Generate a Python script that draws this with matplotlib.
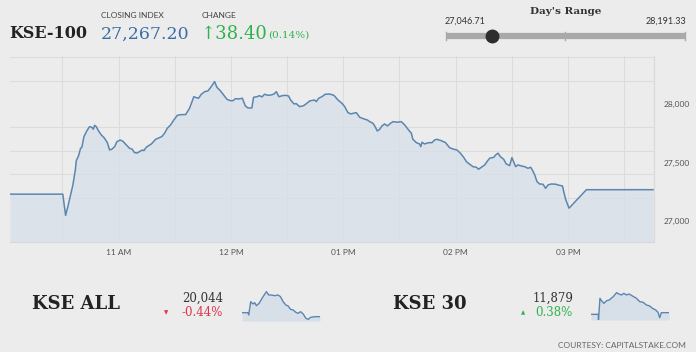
import matplotlib.pyplot as plt
from matplotlib.ticker import FixedLocator, FuncFormatter

# KSE-100 intraday, minutes after 10:00 and index level
kse100_min = [2, 30.2, 31.7, 32.9, 35.6, 36.9, 37.4, 38.6, 39.7, 40.4, 41.5, 43.1, 44.5, 45.7, 46.5,
              47.2, 48.1, 49.3, 50.8, 52.5, 54.0, 55.2, 56.4, 57.9, 59.1, 60.9, 62.3, 64.1, 65.9,
              67.3, 68.5, 70.0, 71.8, 72.7, 73.5, 74.8, 77.5, 79.8, 81.9, 83.1, 84.6, 86.0, 87.8,
              89.5, 91.4, 93.5, 95.8, 97.9, 100.2, 101.5, 102.7, 104.2, 106.0, 107.7, 109.5, 111.3,
              112.5, 114.3, 116.1, 117.9, 119.7, 121.1, 122.4, 124.3, 126.1, 126.8, 127.7, 129.1,
              131.2, 132.1, 133.9, 135.3, 136.6, 138.0, 139.8, 141.6, 143.0, 144.3, 145.6, 147.5,
              149.2, 150.8, 151.9, 153.7, 154.9, 156.7, 158.8, 160.6, 162.1, 164.7, 165.6, 166.9,
              168.6, 170.4, 172.7, 175.0, 177.2, 179.3, 180.8, 182.5, 184.0, 185.7, 187.0, 188.8,
              191.1, 192.9, 194.1, 195.9, 197.2, 198.2, 199.5, 200.7, 202.1, 203.6, 205.3, 206.6,
              208.9, 211.0, 212.8, 214.9, 216.4, 217.2, 219.1, 220.8, 221.4, 222.1, 223.5, 225.6,
              227.4, 228.8, 230.1, 232.4, 234.7, 236.8, 239.0, 240.7, 242.6, 244.3, 245.8, 247.5,
              249.3, 251.1, 252.3, 253.8, 255.6, 256.8, 258.2, 260.4, 261.4, 262.7, 263.9, 265.7,
              267.1, 268.9, 270.1, 271.0, 272.1, 273.3, 275.2, 276.9, 278.7, 280.1, 281.0, 282.3,
              283.5, 284.9, 286.7, 288.1, 289.4, 291.2, 293.5, 295.3, 297.1, 297.8, 298.8, 300.6,
              309.9, 345.5]
kse100_val = [27229, 27229, 27047, 27122, 27308, 27436, 27515, 27556, 27621, 27630, 27721, 27772,
              27806, 27801, 27784, 27818, 27806, 27769, 27735, 27707, 27669, 27607, 27613, 27635,
              27678, 27692, 27681, 27650, 27621, 27613, 27584, 27581, 27598, 27607, 27601, 27630,
              27658, 27698, 27712, 27721, 27750, 27792, 27821, 27863, 27903, 27909, 27909, 27963,
              28062, 28054, 28049, 28083, 28105, 28111, 28148, 28191, 28143, 28114, 28077, 28040,
              28028, 28028, 28045, 28043, 28049, 28020, 27983, 27966, 27966, 28057, 28062, 28071,
              28060, 28083, 28074, 28077, 28085, 28105, 28062, 28071, 28074, 28068, 28034, 28000,
              28003, 27977, 27985, 28006, 28026, 28034, 28020, 28049, 28062, 28083, 28085, 28074,
              28034, 28006, 27977, 27926, 27915, 27921, 27926, 27886, 27872, 27863, 27849, 27835,
              27801, 27769, 27784, 27812, 27829, 27812, 27835, 27849, 27844, 27849, 27821, 27778,
              27750, 27698, 27669, 27658, 27635, 27673, 27658, 27669, 27669, 27692, 27698, 27686,
              27669, 27626, 27613, 27607, 27579, 27544, 27507, 27485, 27464, 27459, 27442, 27459,
              27479, 27507, 27536, 27544, 27564, 27579, 27550, 27527, 27487, 27473, 27541, 27507,
              27464, 27479, 27470, 27464, 27450, 27459, 27436, 27393, 27336, 27316, 27314, 27279,
              27308, 27316, 27314, 27305, 27299, 27250, 27185, 27109, 27267, 27267.2]

kseall_min = [2, 28.6, 31.5, 40.4, 50.7, 58.1, 65.5, 77.3, 95, 109.7, 120.1, 131.9, 146.6, 161.4,
              171.7, 183.5, 195.4, 205.7, 216, 227.8, 239.6, 250, 260.3, 272.1, 283.9, 294.2,
              304.6, 323.8, 346]
kseall_val = [20133, 20133, 20081, 20377, 20325, 20355, 20288, 20340, 20488, 20599, 20525, 20525,
              20510, 20525, 20488, 20377, 20303, 20281, 20207, 20192, 20140, 20118, 20155, 20103,
              20007, 19985, 20029, 20044, 20044]

kse30_min = [2, 34.2, 35, 41.5, 51.8, 59.1, 70.8, 82.5, 100.1, 114.7, 125, 136.7, 146.9, 158.6,
             170.4, 185, 202.6, 217.2, 231.8, 246.5, 261.1, 272.8, 287.5, 297.7, 305, 312.4, 327, 346]
kse30_val = [11834, 11834, 11681, 12266, 12176, 12131, 12203, 12221, 12311, 12419, 12383, 12356,
             12401, 12356, 12383, 12329, 12266, 12176, 12158, 12086, 12059, 11996, 11951, 11888,
             11744, 11879, 11879, 11879]

hour_ticks = [60, 120, 180, 240, 300]
hour_labels = ['11 AM', '12 PM', '01 PM', '02 PM', '03 PM']
y_labels = [27000, 27500, 28000]

day_low = 27046.71
day_high = 28191.33
close_val = 27267.20

BG = '#ececec'
LINE = '#5a86b0'
FILL = '#d5dfe9'
GRID = '#dcdcdc'
W, H = 696, 352


def px(x, y):
    return x / W, 1 - y / H


def rect(x0, y0, x1, y1):
    return [x0 / W, 1 - y1 / H, (x1 - x0) / W, (y1 - y0) / H]


plt.rcParams['font.family'] = ['Lato', 'DejaVu Sans']
fig = plt.figure(figsize=(W / 100, H / 100), dpi=100, facecolor=BG)

# main chart
ax = fig.add_axes(rect(10, 56, 654, 242))
ax.set_facecolor(BG)
ax.plot(kse100_min, kse100_val, color=LINE, lw=1.1, zorder=3)
ax.fill_between(kse100_min, kse100_val, 26820, color=FILL, alpha=0.7, lw=0, zorder=2)
ax.set_xlim(2, 346)
ax.set_ylim(26820, 28410)
ax.xaxis.set_major_locator(FixedLocator(hour_ticks))
ax.xaxis.set_minor_locator(FixedLocator([30, 90, 150, 210, 270, 330]))
ax.set_xticklabels(hour_labels)
ax.yaxis.set_major_locator(FixedLocator(y_labels))
ax.yaxis.set_minor_locator(FixedLocator(range(27000, 28401, 200)))
ax.yaxis.set_major_formatter(FuncFormatter(lambda v, p: f'{v:,.0f}'))
ax.yaxis.tick_right()
ax.tick_params(axis='both', which='both', length=0, labelsize=6, colors='#555555', pad=7)
ax.tick_params(axis='x', pad=5)
ax.grid(True, which='minor', color=GRID, lw=0.8)
ax.grid(True, which='major', axis='x', color=GRID, lw=0.8)
for side in ['top', 'left']:
    ax.spines[side].set_visible(False)
for side in ['bottom', 'right']:
    ax.spines[side].set_color('#d8d8d8')
    ax.spines[side].set_linewidth(0.8)

# header
fig.text(*px(9, 33), 'KSE-100', family='DejaVu Serif', weight='bold', fontsize=11.5,
         color='#222222', va='center')
fig.text(*px(101, 16), 'CLOSING INDEX', fontsize=6, color='#444444', va='center')
fig.text(*px(101, 34), f'{close_val:,.2f}', family='DejaVu Serif', fontsize=12.5,
         color='#3a6ea8', va='center')
fig.text(*px(202, 16), 'CHANGE', fontsize=6, color='#444444', va='center')
fig.text(*px(200, 34), '\u219138.40', family=['DejaVu Serif', 'DejaVu Sans'], fontsize=13,
         color='#2fb34a', va='center')
fig.text(*px(268, 35), '(0.14%)', family='DejaVu Serif', fontsize=7.5, color='#2fb34a', va='center')

# day's range
fig.text(*px(566, 12), "Day's Range", family='DejaVu Serif', weight='bold', fontsize=7.5,
         color='#333333', ha='center', va='center')
fig.text(*px(445, 21), f'{day_low:,.2f}', fontsize=6.5, color='#333333', va='center')
fig.text(*px(686, 21), f'{day_high:,.2f}', fontsize=6.5, color='#333333', ha='right', va='center')
rax = fig.add_axes(rect(440, 28, 692, 44))
rax.set_xlim(day_low - (day_high - day_low) * 6 / 239, day_high + (day_high - day_low) * 7 / 239)
rax.set_ylim(-1, 1)
rax.axis('off')
rax.plot([day_low, day_high], [0, 0], color='#a9a9a9', lw=4.5, solid_capstyle='butt')
for v in [day_low, (day_low + day_high) / 2, day_high]:
    rax.plot([v, v], [-0.55, 0.55], color='#a9a9a9', lw=1)
rax.plot([close_val], [0], 'o', color='#2e2e2e', ms=9)

# bottom summaries
fig.text(*px(32, 304), 'KSE ALL', family='DejaVu Serif', weight='bold', fontsize=13,
         color='#222222', va='center')
fig.text(*px(223, 298), '20,044', family='DejaVu Serif', fontsize=8.5, color='#333333',
         ha='right', va='center')
fig.text(*px(223, 313), '-0.44%', family='DejaVu Serif', fontsize=8.5, color='#e0334c',
         ha='right', va='center')
fig.text(*px(166, 313), '\u25bc', family='DejaVu Sans', fontsize=4, color='#e0334c',
         ha='center', va='center')

fig.text(*px(393, 304), 'KSE 30', family='DejaVu Serif', weight='bold', fontsize=13,
         color='#222222', va='center')
fig.text(*px(573, 298), '11,879', family='DejaVu Serif', fontsize=8.5, color='#333333',
         ha='right', va='center')
fig.text(*px(573, 313), '0.38%', family='DejaVu Serif', fontsize=8.5, color='#2fb34a',
         ha='right', va='center')
fig.text(*px(523, 313), '\u25b2', family='DejaVu Sans', fontsize=4, color='#2fb34a',
         ha='center', va='center')

fig.text(*px(686, 345), 'COURTESY: CAPITALSTAKE.COM', fontsize=6, color='#666666',
         ha='right', va='center')

# sparklines
s1 = fig.add_axes(rect(242, 287, 320, 321))
s1.plot(kseall_min, kseall_val, color=LINE, lw=1)
s1.fill_between(kseall_min, kseall_val, 19948, color=FILL, alpha=0.9, lw=0)
s1.set_xlim(2, 346)
s1.set_ylim(19948, 20703)
s1.axis('off')

s2 = fig.add_axes(rect(591, 288, 669, 320))
s2.plot(kse30_min, kse30_val, color=LINE, lw=1)
s2.fill_between(kse30_min, kse30_val, 11681, color=FILL, alpha=0.9, lw=0)
s2.set_xlim(2, 346)
s2.set_ylim(11681, 12545)
s2.axis('off')

fig.savefig('out.png', dpi=100, facecolor=BG)
